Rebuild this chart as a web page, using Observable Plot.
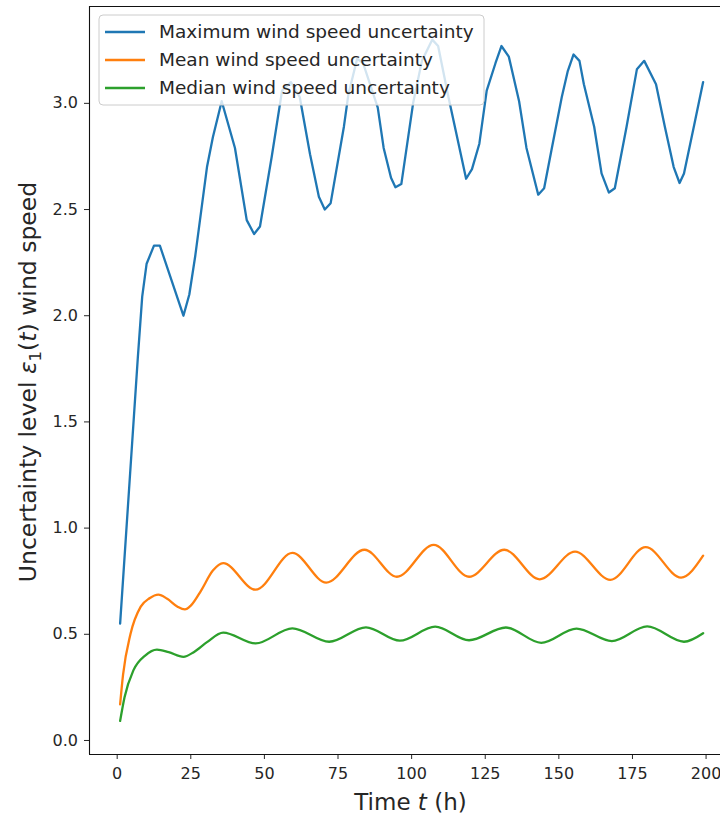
<!DOCTYPE html>
<html>
<head>
<meta charset="utf-8">
<script src="https://cdn.jsdelivr.net/npm/d3@7"></script>
<script src="https://cdn.jsdelivr.net/npm/@observablehq/plot@0.6"></script>
<style>
  html, body { margin: 0; padding: 0; background: #fff; }
  #chart svg { display: block; }
</style>
</head>
<body>
<div id="chart"></div>
<script>
// Series names and colours (tab10 palette)
const seriesNames = [
  "Maximum wind speed uncertainty",
  "Mean wind speed uncertainty",
  "Median wind speed uncertainty"
];
const seriesColors = ["#1f77b4", "#ff7f0e", "#2ca02c"];

// Maximum uncertainty: time (h) and level
const maxT = [1, 7, 8.5, 10, 12.5, 14.5, 22.5, 24.5, 26.5, 30.5, 32.5, 35.5, 40, 44, 46.5, 48.5,
  52.5, 56, 59, 62, 65.5, 68.5, 70.5, 72.5, 77, 78.5, 81.5, 83.5, 88.5, 90.5, 93, 94.5, 96.5,
  100.5, 103.5, 107, 109, 112.5, 115, 118.5, 120.5, 123, 125.5, 128.5, 130.5, 133, 136.5, 139,
  143, 145, 147.5, 151, 153, 155, 157, 158.5, 162, 164.5, 167, 169, 173, 176.5, 179, 183, 186,
  189, 191, 192.5, 196, 199];
const maxV = [0.55, 1.80, 2.09, 2.245, 2.33, 2.33, 2.00, 2.10, 2.28, 2.70, 2.84, 3.01, 2.79, 2.45, 2.385, 2.42,
  2.75, 3.06, 3.10, 3.03, 2.76, 2.56, 2.50, 2.53, 2.89, 3.04, 3.21, 3.19, 2.98, 2.79, 2.65, 2.605, 2.62,
  3.00, 3.20, 3.30, 3.27, 3.03, 2.87, 2.645, 2.69, 2.81, 3.06, 3.19, 3.27, 3.22, 3.01, 2.79,
  2.57, 2.60, 2.78, 3.03, 3.15, 3.23, 3.20, 3.09, 2.89, 2.67, 2.58, 2.60, 2.89, 3.16, 3.20, 3.09, 2.89,
  2.70, 2.625, 2.67, 2.90, 3.10];

// Mean uncertainty
const meanT = [1, 2, 4.5, 8, 11, 14, 17, 20.5, 23, 25, 28.5, 32.5, 36, 47, 59.5, 71, 84, 95,
  107.5, 119.5, 131.5, 143.5, 155.5, 167.5, 179.5, 191.5, 199];
const meanV = [0.17, 0.31, 0.50, 0.63, 0.67, 0.687, 0.667, 0.63, 0.617, 0.635, 0.706, 0.80, 0.835, 0.71, 0.883, 0.743, 0.898, 0.771,
  0.921, 0.771, 0.898, 0.759, 0.889, 0.756, 0.91, 0.767, 0.87];

// Median uncertainty
const medianT = [1, 2.5, 5.5, 9.5, 13.5, 17.5, 22.5, 26, 30.5, 36, 47, 59.5, 72, 84.5, 96,
  108, 119.5, 132, 144, 156, 168, 180, 192.5, 199];
const medianV = [0.092, 0.204, 0.33, 0.40, 0.428, 0.416, 0.394, 0.416, 0.463, 0.508, 0.457, 0.528, 0.465, 0.533, 0.47,
  0.536, 0.472, 0.532, 0.46, 0.527, 0.468, 0.537, 0.465, 0.505];

// Axis ticks
const xTicks = [0, 25, 50, 75, 100, 125, 150, 175, 200];
const yTicks = [0, 0.5, 1.0, 1.5, 2.0, 2.5, 3.0];

const xDomain = [-9.4, 204.9];
const yDomain = [-0.066, 3.456];

const toRows = (ts, vs) => ts.map((t, i) => ({t, v: vs[i]}));
const maxRows = toRows(maxT, maxV);
const meanRows = toRows(meanT, meanV);
const medianRows = toRows(medianT, medianV);

const chart = Plot.plot({
  width: 720,
  height: 818,
  marginLeft: 89,
  marginRight: 0,
  marginTop: 6,
  marginBottom: 64,
  style: {fontFamily: "DejaVu Sans", fontSize: "16px", color: "#262626", background: "#fff"},
  x: {domain: xDomain, ticks: xTicks, tickSize: 5, tickPadding: 8, label: null},
  y: {domain: yDomain, ticks: yTicks, tickSize: 5, tickPadding: 6.5, tickFormat: d3.format(".1f"), label: null},
  marks: [
    Plot.line(maxRows, {x: "t", y: "v", stroke: seriesColors[0], strokeWidth: 2.3}),
    Plot.line(meanRows, {x: "t", y: "v", stroke: seriesColors[1], strokeWidth: 2.3, curve: "monotone-x"}),
    Plot.line(medianRows, {x: "t", y: "v", stroke: seriesColors[2], strokeWidth: 2.3, curve: "monotone-x"}),
    // axes spines (left, bottom, top)
    Plot.ruleX([xDomain[0]], {stroke: "#111", strokeWidth: 1.1}),
    Plot.ruleY([yDomain[0], yDomain[1]], {stroke: "#111", strokeWidth: 1.1})
  ]
});

const svg = d3.select(chart);

// Legend box in the upper-left corner of the axes
const legend = svg.append("g")
  .attr("font-family", "DejaVu Sans").attr("font-size", 18.5).attr("text-anchor", "start");
legend.append("rect")
  .attr("x", 99).attr("y", 15).attr("width", 385).attr("height", 90)
  .attr("rx", 4).attr("fill", "#fff").attr("fill-opacity", 0.8)
  .attr("stroke", "#cccccc").attr("stroke-width", 1);
const rowY = [32, 60, 88];
seriesNames.forEach((name, i) => {
  legend.append("line")
    .attr("x1", 105).attr("x2", 145).attr("y1", rowY[i]).attr("y2", rowY[i])
    .attr("stroke", seriesColors[i]).attr("stroke-width", 2.3);
  legend.append("text")
    .attr("x", 159).attr("y", rowY[i]).attr("dy", "0.35em")
    .attr("text-anchor", "start")
    .attr("fill", "#262626").text(name);
});

// x-axis label: Time t (h)
const xl = svg.append("text")
  .attr("x", 410.5).attr("y", 810)
  .attr("text-anchor", "middle")
  .attr("font-family", "DejaVu Sans").attr("font-size", 23).attr("fill", "#262626");
xl.append("tspan").text("Time ");
xl.append("tspan").attr("font-style", "italic").text("t");
xl.append("tspan").text(" (h)");

// y-axis label: Uncertainty level ε1(t) wind speed
const yl = svg.append("text")
  .attr("transform", "translate(36,382) rotate(-90)")
  .attr("text-anchor", "middle")
  .attr("font-family", "DejaVu Sans").attr("font-size", 23.5).attr("fill", "#262626");
yl.append("tspan").text("Uncertainty level ");
yl.append("tspan").attr("font-style", "italic").text("ε");
yl.append("tspan").attr("font-size", 16.5).attr("dy", 5).text("1");
yl.append("tspan").attr("dy", -5).text("(");
yl.append("tspan").attr("font-style", "italic").text("t");
yl.append("tspan").text(") wind speed");

document.getElementById("chart").appendChild(chart);
</script>
</body>
</html>
